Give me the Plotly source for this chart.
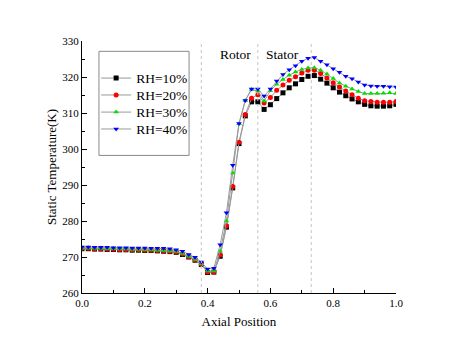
import plotly.graph_objects as go

x = [round(i * 0.02, 2) for i in range(51)]

rh10 = [272.3, 272.3, 272.2, 272.2, 272.1, 272.1, 272.0, 272.0, 271.9, 271.9,
        271.8, 271.8, 271.7, 271.6, 271.5, 271.3, 270.7, 270.0, 269.1, 267.9,
        265.7, 265.8, 270.2, 278.3, 289.2, 301.5, 309.2, 313.1, 313.1, 311.0,
        312.3, 314.0, 315.6, 317.0, 318.1, 319.3, 320.2, 320.4, 319.4, 318.3,
        317.0, 315.8, 314.8, 313.9, 313.1, 312.4, 312.0, 311.9, 311.9, 312.0, 312.4]
rh20 = [272.4, 272.4, 272.3, 272.3, 272.2, 272.2, 272.1, 272.1, 272.0, 272.0,
        271.9, 271.9, 271.8, 271.7, 271.6, 271.4, 270.8, 270.1, 269.2, 268.0,
        265.8, 265.9, 270.6, 278.7, 289.6, 301.9, 309.6, 314.1, 315.1, 312.8,
        314.3, 316.3, 317.8, 319.1, 320.1, 321.1, 321.9, 321.9, 321.0, 319.7,
        318.4, 317.2, 316.1, 315.1, 314.1, 313.4, 313.2, 313.0, 313.0, 313.0, 313.2]
rh30 = [272.5, 272.5, 272.4, 272.4, 272.3, 272.3, 272.2, 272.2, 272.1, 272.1,
        272.0, 272.0, 271.9, 271.8, 271.7, 271.5, 271.0, 270.2, 269.3, 268.1,
        266.1, 266.1, 271.6, 280.0, 293.3, 307.0, 313.5, 316.5, 316.1, 313.3,
        316.2, 318.0, 319.3, 320.5, 321.4, 322.1, 322.5, 322.6, 321.9, 320.8,
        319.6, 318.3, 317.4, 316.7, 316.0, 315.4, 315.4, 315.4, 315.5, 315.6, 315.4]
rh40 = [272.8, 272.8, 272.7, 272.7, 272.7, 272.6, 272.6, 272.6, 272.5, 272.5,
        272.5, 272.4, 272.4, 272.4, 272.3, 272.0, 271.6, 270.7, 269.9, 268.6,
        266.7, 266.9, 273.4, 282.3, 295.5, 307.1, 313.5, 316.7, 316.7, 314.7,
        316.7, 318.9, 320.7, 322.0, 323.1, 324.4, 325.2, 325.4, 324.4, 323.4,
        322.3, 321.3, 320.2, 319.5, 318.6, 317.8, 317.5, 317.4, 317.4, 317.3, 317.2]

series = [
    ("RH=10%", rh10, "black", "square"),
    ("RH=20%", rh20, "red", "circle"),
    ("RH=30%", rh30, "#00e000", "triangle-up"),
    ("RH=40%", rh40, "blue", "triangle-down"),
]
vlines = [0.38, 0.56, 0.73]
legend_y = [0.852, 0.785, 0.717, 0.650]

FONT = "Liberation Serif"
fig = go.Figure()
legend_names = ["legend", "legend2", "legend3", "legend4"]
for (name, ys, col, sym), lg in zip(series, legend_names):
    fig.add_trace(go.Scatter(
        x=x, y=ys, name=name, mode="lines+markers", legend=lg,
        line=dict(color="#999999", width=1),
        marker=dict(color=col, symbol=sym, size=5, line=dict(width=0)),
    ))

for v in vlines:
    fig.add_shape(type="line", xref="x", yref="paper", x0=v, x1=v, y0=0, y1=1,
                  line=dict(color="#c4c4c4", width=1, dash="dot"))

fig.add_shape(type="rect", xref="paper", yref="paper",
              x0=0.054, x1=0.341, y0=0.546, y1=0.959,
              line=dict(color="#888888", width=1), fillcolor="rgba(0,0,0,0)")

fig.add_annotation(x=0.49, y=326.3, text="Rotor", showarrow=False,
                   font=dict(family=FONT, size=13.5, color="black"))
fig.add_annotation(x=0.637, y=326.3, text="Stator", showarrow=False,
                   font=dict(family=FONT, size=13.5, color="black"))

axis_common = dict(
    showline=True, linecolor="black", linewidth=1, mirror=False,
    ticks="inside", ticklen=5, tickwidth=1, tickcolor="black",
    showgrid=False, zeroline=False,
    tickfont=dict(family=FONT, size=11, color="black"),
)

fig.update_xaxes(range=[0, 1], dtick=0.2, tickformat=".1f",
                 minor=dict(ticks="inside", dtick=0.1, ticklen=3, tickcolor="black"),
                 title=dict(text="Axial Position", font=dict(family=FONT, size=13, color="black"), standoff=8),
                 **axis_common)
fig.update_yaxes(range=[260, 330], dtick=10,
                 minor=dict(ticks="inside", dtick=5, ticklen=3, tickcolor="black"),
                 title=dict(text="Static Temperature(K)", font=dict(family=FONT, size=13, color="black"), standoff=2),
                 **axis_common)

layout_legends = {}
for lg, ly in zip(legend_names, legend_y):
    layout_legends[lg] = dict(x=0.045, y=ly, xanchor="left", yanchor="middle",
                              bgcolor="rgba(0,0,0,0)", borderwidth=0,
                              font=dict(family=FONT, size=13.5, color="black"),
                              itemwidth=30)

fig.update_layout(
    width=460, height=352,
    margin=dict(l=82, r=64, t=41, b=59),
    paper_bgcolor="white", plot_bgcolor="white",
    showlegend=True,
    **layout_legends,
)

fig.write_html("out.html")
